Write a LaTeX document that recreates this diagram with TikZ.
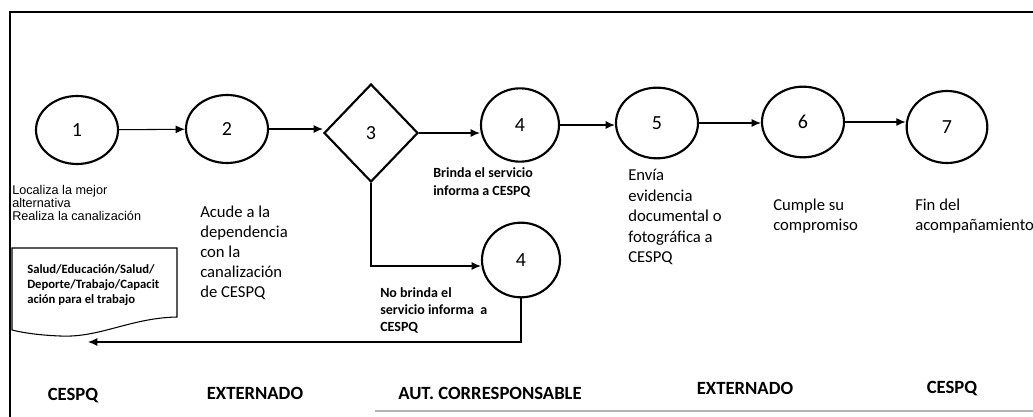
\documentclass[tikz,border=0pt]{standalone}
\usepackage{fontspec}
\setmainfont{Carlito}
\newfontfamily\arialf{Liberation Sans}
\usetikzlibrary{shapes.geometric,arrows.meta}
\begin{document}
\begin{tikzpicture}[x=0.75pt,y=-0.75pt,
  stepnode/.style={draw,ellipse,line width=1.6pt,inner sep=0pt,minimum width=61.5pt,minimum height=51pt,font=\fontsize{15}{18}\selectfont},
  decision/.style={draw,diamond,line width=1.6pt,inner sep=0pt,minimum width=70.5pt,minimum height=73.5pt,font=\fontsize{15}{18}\selectfont},
  arr/.style={line width=0.8pt,-{Latex[length=7pt,width=6pt]}},
  conn/.style={line width=0.8pt},
  bigtxt/.style={anchor=north west,inner sep=0pt,align=left,font=\fontsize{12.5}{15}\selectfont},
  smalltxt/.style={anchor=north west,inner sep=0pt,align=left,font=\fontsize{10.5}{13.5}\selectfont\bfseries},
  lanelbl/.style={anchor=base,inner sep=0pt,font=\fontsize{14}{16}\selectfont\bfseries}
]
\useasboundingbox (0,0) rectangle (1033,417);
% frame
\draw[line width=1.2pt] (10,417) -- (10,12) -- (1033,12);
\draw[line width=0.8pt,gray!60] (375,411) -- (1033,411);

% nodes
\node[stepnode] (c1) at (77,130) {1};
\node[stepnode] (c2) at (227,129) {2};
\node[decision] (d3) at (371,133) {3};
\node[stepnode,minimum width=58.5pt,minimum height=55pt] (c4) at (520,125) {4};
\node[stepnode,minimum height=53pt] (c5) at (657,123) {5};
\node[stepnode,minimum height=53pt] (c6) at (803,122) {6};
\node[stepnode,minimum width=60.5pt,minimum height=54pt] (c7) at (947,127) {7};
\node[stepnode,minimum width=58.5pt,minimum height=56pt] (c4b) at (521,260) {4};

% document shape
\draw[line width=0.8pt] (12,248) -- (177,248) -- (177,317)
  .. controls (130,318) and (100,338) .. (60,336)
  .. controls (35,335) and (20,332) .. (12,330) -- cycle;
\node[anchor=north west,inner sep=0pt,align=left,font=\fontsize{9.5}{11.25}\selectfont\bfseries] (doc) at (27,264)
  {Salud/Educación/Salud/\\Deporte/Trabajo/Capacit\\ación para el trabajo};

% connectors
\draw[arr] (c1) -- (c2);
\draw[arr] (c2.east) -- (c2.east -| d3.west);
\draw[arr] (d3.east) -- (c4.west |- d3.east);
\draw[arr] (c4.east) -- (c4.east -| c5.west);
\draw[arr] (c5.east) -- (c5.east -| c6.west);
\draw[arr] (c6.east) -- (c6.east -| c7.west);
\coordinate (split) at (371,266);
\draw[arr] (d3.south) -- (split) -- (split -| c4b.west);
\coordinate (ret) at (88,342);
\draw[arr] (c4b.south) -- (c4b.south |- ret) -- (ret);

% texts
\node[anchor=north west,inner sep=0pt,align=left,font=\arialf\fontsize{9.5}{9.75}\selectfont] (t1) at (12,185)
  {Localiza la mejor\\alternativa\\Realiza la canalización};
\node[bigtxt] (t2) at (200,206) {Acude a la\\dependencia\\con la\\canalización\\de CESPQ};
\node[smalltxt] (t4) at (433,167) {Brinda el servicio\\informa a CESPQ};
\node[smalltxt,font=\fontsize{10.5}{12.75}\selectfont\bfseries] (t4b) at (380,287) {No brinda el\\servicio informa\ \ a\\CESPQ};
\node[bigtxt,font=\fontsize{12.5}{15.4}\selectfont] (t5) at (628,169) {Envía\\evidencia\\documental o\\fotográfica a\\CESPQ};
\node[bigtxt] (t6) at (773,199) {Cumple su\\compromiso};
\node[bigtxt] (t7) at (915,199) {Fin del\\acompañamiento};

% lane labels
\node[lanelbl] (l1) at (73,401) {CESPQ};
\node[lanelbl] (l2) at (255,399) {EXTERNADO};
\node[lanelbl] (l3) at (490,399) {AUT. CORRESPONSABLE};
\node[lanelbl] (l4) at (745,394) {EXTERNADO};
\node[lanelbl] (l5) at (952,393) {CESPQ};
\end{tikzpicture}
\end{document}
